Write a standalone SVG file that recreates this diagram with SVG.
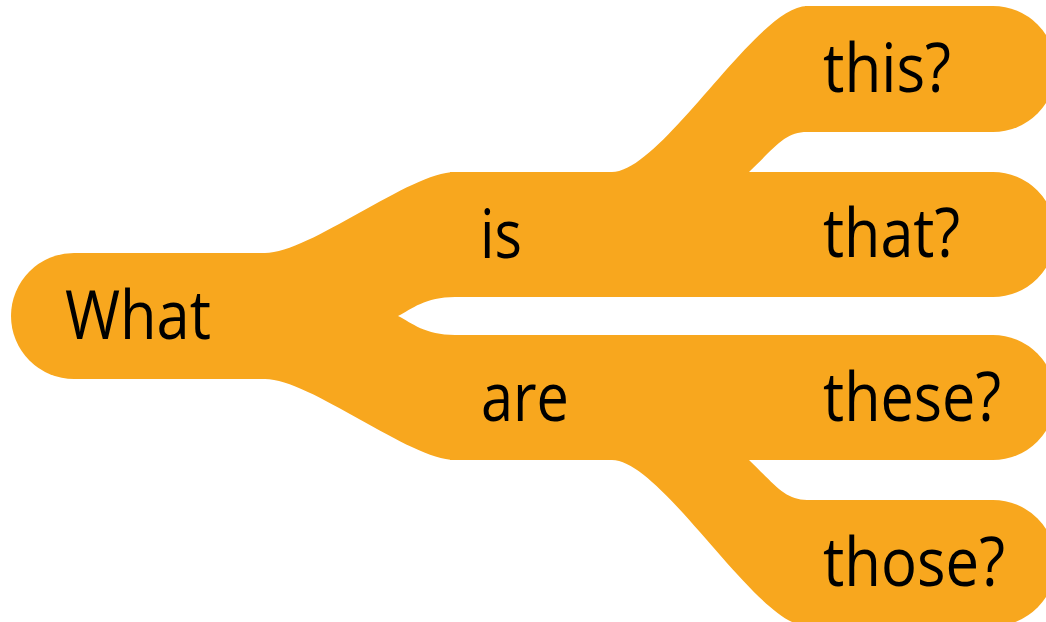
<svg xmlns="http://www.w3.org/2000/svg" width="1046" height="622" viewBox="0 0 1046 622">
<style>
.band{fill:#F8A71E;}
.lbl{font-family:"Open Sans","Noto Sans",sans-serif;font-size:68px;fill:#000;}
</style>
<rect width="1046" height="622" fill="#fff"/>
<g id="connectors">
<path class="band" d="M262,253 H265 C310,253 410,172 455,172 V297 C425,297 412,309 398,316 L262,316 Z"/>
<path class="band" d="M262,379 H265 C310,379 410,460 455,460 V335 C425,335 412,323 398,316 L262,316 Z"/>
<path class="band" d="M600,172 H612 C662,172 757,6 807,6 H815 V132 H807 C785,132 775,147 749,172 Z"/>
<path class="band" d="M600,460 H612 C662,460 757,626 807,626 H815 V500 H807 C785,500 775,485 749,460 Z"/>
</g>
<g id="node-what">
<path class="band" d="M74,253 H270 V379 H74 A63,63 0 0 1 74,253 Z"/>
<text class="lbl" x="65" y="339" textLength="146" lengthAdjust="spacingAndGlyphs">What</text>
</g>
<g id="node-is">
<rect class="band" x="450" y="172" width="170" height="125"/>
<text class="lbl" x="480" y="258" textLength="42" lengthAdjust="spacingAndGlyphs">is</text>
</g>
<g id="node-are">
<rect class="band" x="450" y="335" width="170" height="125"/>
<text class="lbl" x="481" y="421" textLength="88" lengthAdjust="spacingAndGlyphs">are</text>
</g>
<g id="node-this">
<path class="band" d="M805,6 H993 A63,63 0 0 1 993,132 H805 Z"/>
<text class="lbl" x="823" y="92" textLength="128" lengthAdjust="spacingAndGlyphs">this?</text>
</g>
<g id="node-that">
<path class="band" d="M615,172 H993 A62.5,62.5 0 0 1 993,297 H615 Z"/>
<text class="lbl" x="823" y="257" textLength="137" lengthAdjust="spacingAndGlyphs">that?</text>
</g>
<g id="node-these">
<path class="band" d="M615,335 H993 A62.5,62.5 0 0 1 993,460 H615 Z"/>
<text class="lbl" x="823" y="421" textLength="178" lengthAdjust="spacingAndGlyphs">these?</text>
</g>
<g id="node-those">
<path class="band" d="M805,500 H993 A63,63 0 0 1 993,626 H805 Z"/>
<text class="lbl" x="823" y="586" textLength="182" lengthAdjust="spacingAndGlyphs">those?</text>
</g>
</svg>
